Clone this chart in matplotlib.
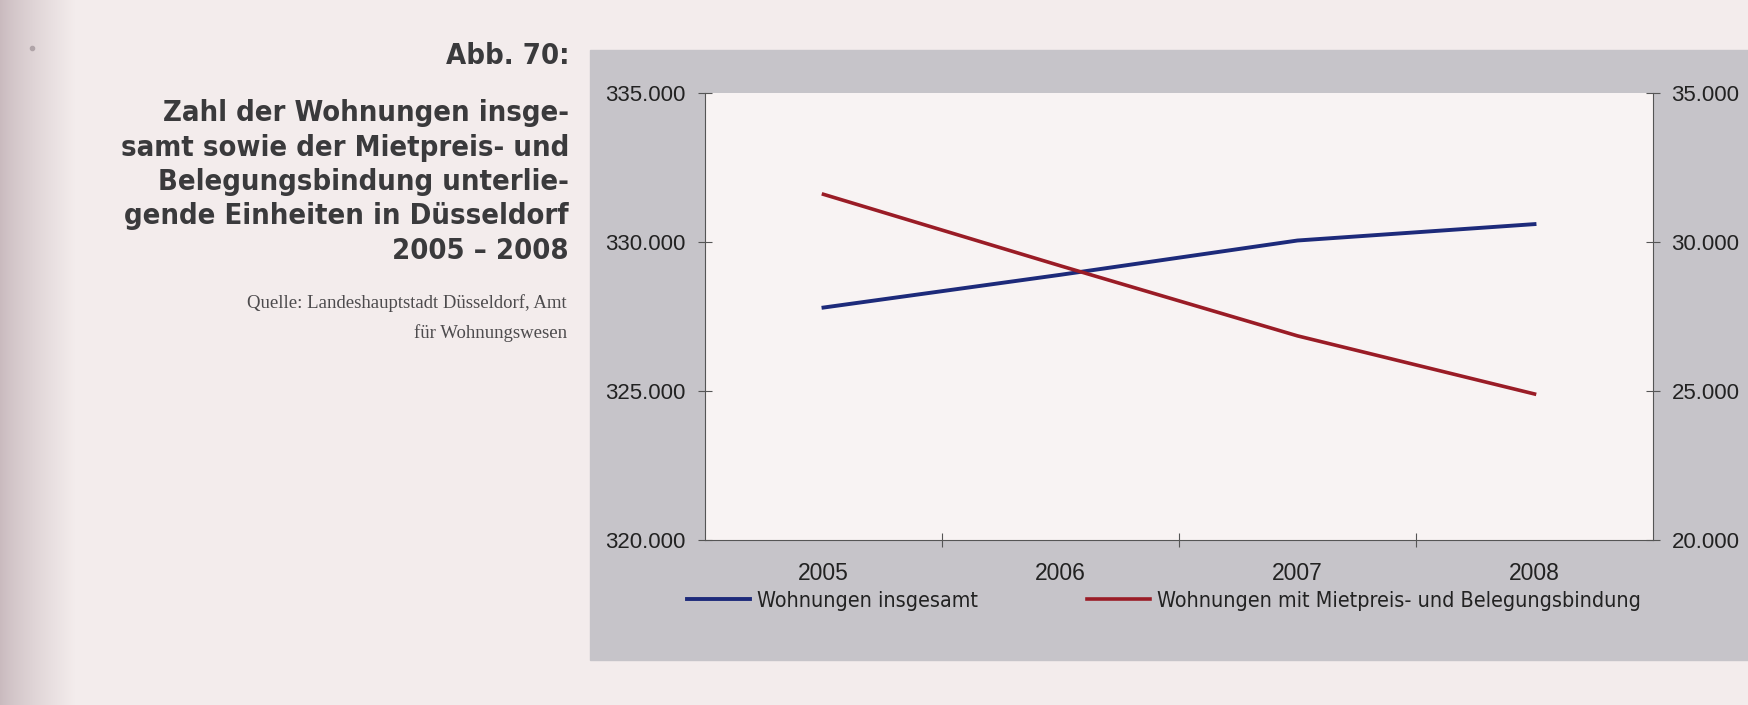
import matplotlib.pyplot as plt
import matplotlib as mpl
import numpy as np
from matplotlib import font_manager
from matplotlib.patches import Rectangle
from matplotlib.ticker import FuncFormatter

mpl.rcParams['font.family'] = ['Liberation Sans', 'DejaVu Sans']

# Daten
jahre = ['2005', '2006', '2007', '2008']
wohnungen_gesamt = [327800, 328900, 330050, 330600]      # linke Achse
wohnungen_gebunden = [31600, 29200, 26850, 24900]        # rechte Achse
ticks_links = [320000, 325000, 330000, 335000]
ticks_rechts = [20000, 25000, 30000, 35000]

abb = 'Abb. 70:'
titel = ['Zahl der Wohnungen insge-', 'samt sowie der Mietpreis- und',
         'Belegungsbindung unterlie-', 'gende Einheiten in Düsseldorf',
         '2005 – 2008']
quelle = ['Quelle: Landeshauptstadt Düsseldorf, Amt', 'für Wohnungswesen']
legende = ['Wohnungen insgesamt', 'Wohnungen mit Mietpreis- und Belegungsbindung']

W, H = 1748, 705
fig = plt.figure(figsize=(W / 100, H / 100), dpi=100)
seite = '#f3ecec'
fig.patch.set_facecolor(seite)


def fx(px):
    return px / W


def fy(py):
    return 1 - py / H


# schmale Schrift suchen
def schmale_schrift():
    namen = [f.name for f in font_manager.fontManager.ttflist]
    if 'Liberation Sans Narrow' in namen:
        return {'family': 'Liberation Sans Narrow'}
    for f in font_manager.fontManager.ttflist:
        if f.name == 'DejaVu Sans' and 'condensed' in str(f.stretch):
            return {'family': 'DejaVu Sans', 'stretch': 'condensed'}
    return {'family': 'Roboto'}


schmal = schmale_schrift()

# Hintergrund: Seite, Falz-Schatten, graues Feld
bg = fig.add_axes([0, 0, 1, 1])
bg.set_xlim(0, W)
bg.set_ylim(H, 0)
bg.axis('off')
c0 = np.array(mpl.colors.to_rgb('#c9babe'))
c1 = np.array(mpl.colors.to_rgb(seite))
t = np.linspace(0, 1, 100)[:, None] ** 0.8
grad = (c0 * (1 - t) + c1 * t)[None, :, :]
bg.imshow(grad, extent=(0, 75, H, 0), aspect='auto', zorder=0)
bg.add_patch(Rectangle((590, 50), W - 590, 610, color='#c6c4c9', zorder=1))
bg.plot([32], [48], 'o', ms=3, color='#b0a4a8', zorder=2)

# Diagramm
ax = fig.add_axes([fx(705), fy(540), fx(1653) - fx(705), (540 - 93) / H])
ax.set_facecolor('#f8f3f3')
x = np.arange(len(jahre))
l1, = ax.plot(x, wohnungen_gesamt, color='#1d2a7a', lw=2.8)
ax2 = ax.twinx()
l2, = ax2.plot(x, wohnungen_gebunden, color='#9a1c26', lw=2.6)

ax.set_xlim(-0.5, len(jahre) - 0.5)
ax.set_ylim(320000, 335000)
ax2.set_ylim(20000, 35000)

fmt = FuncFormatter(lambda v, p: f'{int(v):,}'.replace(',', '.'))
ax.set_yticks(ticks_links)
ax.yaxis.set_major_formatter(fmt)
ax2.set_yticks(ticks_rechts)
ax2.yaxis.set_major_formatter(fmt)
ax.set_xticks(x)
ax.set_xticklabels(jahre)
ax.set_xticks(x[:-1] + 0.5, minor=True)

achse = '#555555'
ax.tick_params(axis='x', which='major', length=0, pad=16, labelsize=16.5, labelcolor='#222222')
ax.tick_params(axis='x', which='minor', direction='inout', length=9.5, width=0.8, color=achse)
ax.tick_params(axis='y', direction='inout', length=9.5, width=0.8, color=achse,
               pad=9, labelsize=16, labelcolor='#222222')
ax2.tick_params(axis='y', direction='inout', length=9.5, width=0.8, color=achse,
                pad=8.5, labelsize=16, labelcolor='#222222')

for s in ['top', 'right']:
    ax.spines[s].set_visible(False)
for s in ['top', 'left', 'bottom']:
    ax2.spines[s].set_visible(False)
for sp in [ax.spines['left'], ax.spines['bottom'], ax2.spines['right']]:
    sp.set_color(achse)
    sp.set_linewidth(0.8)

renderer = fig.canvas.get_renderer()


def breite(text, **kw):
    tt = fig.text(0, 0, text, **kw)
    w = tt.get_window_extent(renderer).width
    tt.remove()
    return w


# Titelblock
gr = 20 * 406 / breite(titel[0], fontsize=20, weight='bold', **schmal)
fig.text(fx(569), fy(56), abb, ha='right', va='center', fontsize=gr, weight='bold',
         color='#3a3a3c', **schmal)
for i, zeile in enumerate(titel):
    fig.text(fx(569), fy(113 + 34.5 * i), zeile, ha='right', va='center', fontsize=gr,
             weight='bold', color='#3a3a3c', **schmal)

gq = 16 * 304 / breite(quelle[0], fontsize=16, family='Liberation Serif') * 1.05
for i, zeile in enumerate(quelle):
    fig.text(fx(567), fy(303 + 30 * i), zeile, ha='right', va='center', fontsize=gq,
             family='Liberation Serif', color='#4d4b4d')

# Legende
gl = 16 * 222 / breite(legende[0], fontsize=16, **schmal)
em = gl * 100 / 72
prop = dict(size=gl, **schmal)
fig.legend([l1, l2], legende, ncol=2, frameon=False, loc='center left',
           bbox_to_anchor=(fx(687), fy(601)), borderpad=0, borderaxespad=0,
           handlelength=63 / em, handletextpad=7 / em, columnspacing=109 / em,
           prop=prop, labelcolor='#222222')

fig.savefig('out.png', dpi=100, facecolor=fig.get_facecolor())
